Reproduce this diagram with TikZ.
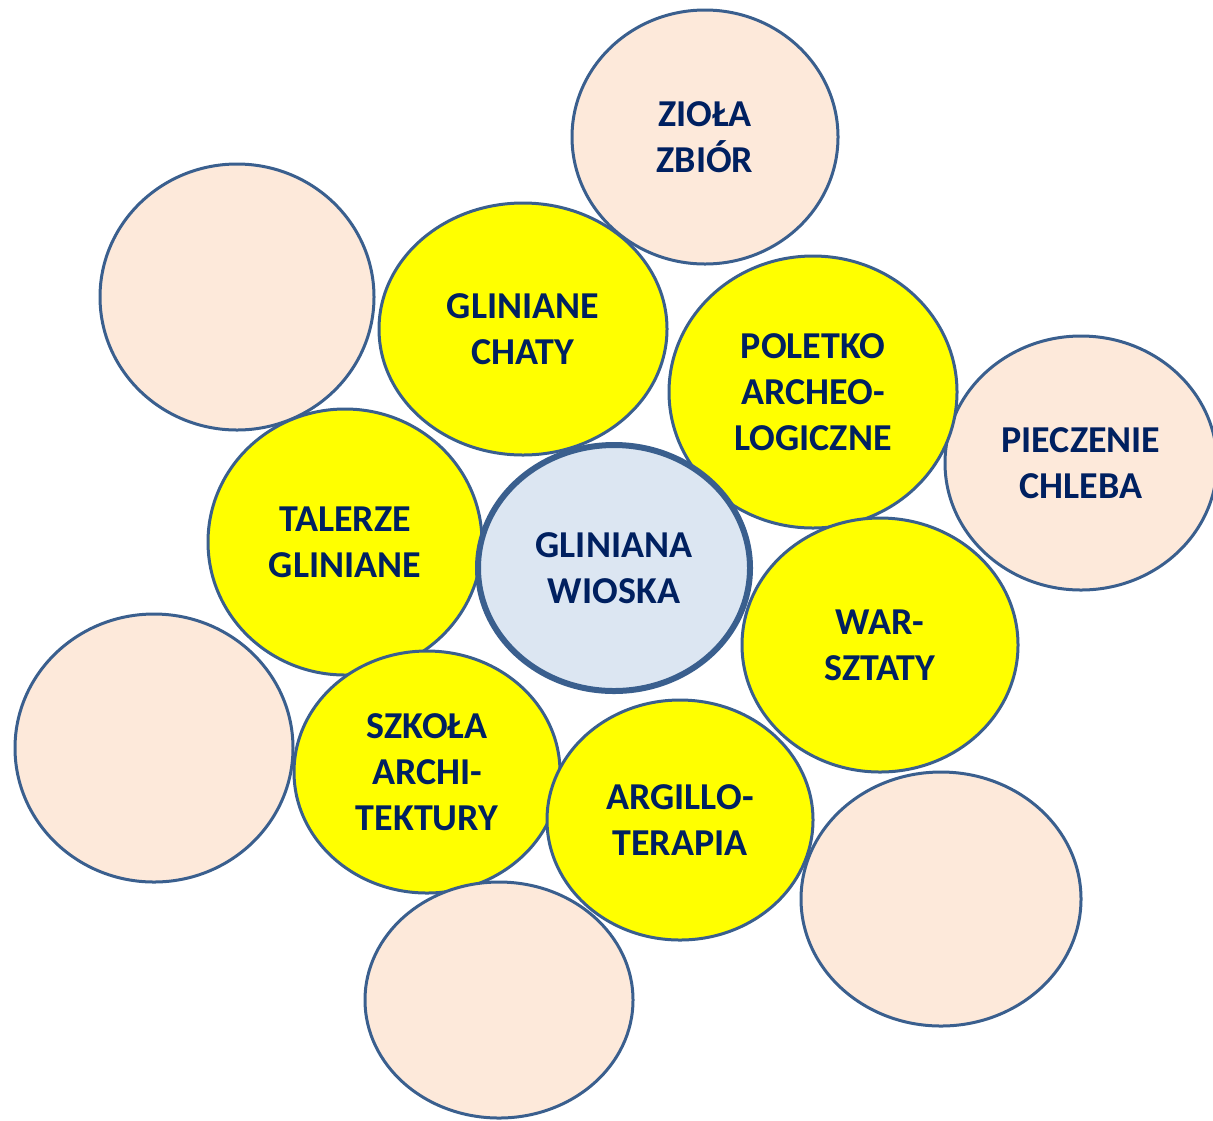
\documentclass[tikz,border=0pt]{standalone}
\usepackage{fontspec}
\setmainfont{Carlito}
\usetikzlibrary{shapes.geometric}
\definecolor{edgec}{HTML}{3A5F8E}
\definecolor{txtc}{HTML}{002060}
\definecolor{peachc}{HTML}{FDE9DA}
\definecolor{yelc}{HTML}{FFFF00}
\definecolor{corec}{HTML}{DCE6F2}
\tikzset{
  bubble/.style={ellipse, draw=edgec, line width=1.5pt, inner sep=0pt, align=center,
    font=\fontsize{19}{23}\selectfont\bfseries, text=txtc},
  sz/.style 2 args={minimum width=#1pt, minimum height=#2pt},
  peach/.style={bubble, fill=peachc},
  yel/.style={bubble, fill=yelc},
  core/.style={bubble, fill=corec, line width=3pt}
}
\begin{document}
\begin{tikzpicture}[x=0.5pt,y=-0.5pt]
\useasboundingbox (0,0) rectangle (1213,1120);
% peach bubbles
\node[peach, sz={133}{127}] (zio) at (705,137) {ZIOŁA\\ZBIÓR};
\node[peach, sz={137}{133}] (tl) at (237,297) {};
\node[peach, sz={136}{127}] (pie) at (1081,463) {PIECZENIE\\CHLEBA};
\node[peach, sz={139}{134}] (lft) at (154,748) {};
\node[peach, sz={140}{127}] (br) at (941,899) {};
% yellow bubbles
\node[yel, sz={144}{126}] (cha) at (523,329) {GLINIANE\\CHATY};
\node[yel, sz={144}{136}] (pol) at (813,392) {POLETKO\\ARCHEO-\\LOGICZNE};
\node[yel, sz={137}{133}] (tal) at (345,542) {TALERZE\\GLINIANE};
\node[yel, sz={138}{127}] (war) at (880,645) {WAR-\\SZTATY};
\node[yel, sz={133}{121}] (szk) at (427,772) {SZKOŁA\\ARCHI-\\TEKTURY};
\node[yel, sz={133}{120}] (arg) at (680,820) {ARGILLO-\\TERAPIA};
\node[peach, sz={134}{118}] (bot) at (499,1000) {};
% centre
\node[core, sz={136}{123}] (wio) at (614,568) {GLINIANA\\WIOSKA};
\end{tikzpicture}
\end{document}
